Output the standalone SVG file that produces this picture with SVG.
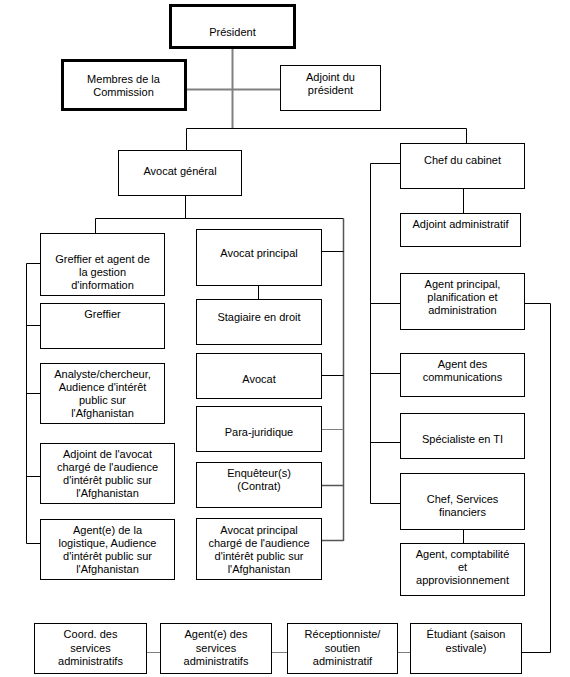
<svg xmlns="http://www.w3.org/2000/svg" width="570" height="677" viewBox="0 0 570 677">
<style>
.box{fill:#fff;stroke:#000;stroke-width:1}
.thick{stroke-width:3}
.t{font-family:"Liberation Sans",Arial,sans-serif;font-size:11px;text-anchor:middle;fill:#000}
.c{fill:none;stroke:#000;stroke-width:1}
.g{fill:none;stroke:#808080;stroke-width:1}
.g2{fill:none;stroke:#808080;stroke-width:2}
.d{fill:none;stroke:#555;stroke-width:1.5}
</style>
<rect width="570" height="677" fill="#fff"/>
<g id="connectors">
<path class="g2" d="M232.5 49 V128.5"/>
<path class="g2" d="M187 89.5 H280"/>
<path class="c" d="M186.5 128.5 H466.5 M186.5 128.5 V150 M466.5 128.5 V143"/>
<path class="c" d="M185.5 195 V218.5 M95.5 218.5 H343.5 M95.5 218.5 V233"/>
<path class="d" d="M343.5 218.5 V541"/>
<path class="c" d="M321 251.5 H343.5 M321 375.5 H343.5"/>
<path class="g" d="M321 429.5 H343.5"/>
<path class="d" d="M321 485.5 H343.5 M321 540.5 H343.5"/>
<path class="c" d="M258.5 285 V299"/>
<path class="c" d="M26.5 263.5 V543.5 M26.5 263.5 H40 M26.5 325.5 H40 M26.5 393.5 H40 M26.5 476.5 H40 M26.5 543.5 H40"/>
<path class="c" d="M370.5 163.5 V503.5 M370.5 163.5 H400 M370.5 303.5 H400 M370.5 373.5 H400 M370.5 442.5 H400 M370.5 503.5 H400"/>
<path class="c" d="M463.5 188 V213 M463.5 529 V543"/>
<path class="c" d="M524 303.5 H550.5 V652.5 H521"/>
<path class="g" d="M146 652.5 H160 M271 652.5 H287 M397 652.5 H410"/>
</g>
<g id="president"><rect class="box thick" x="170.5" y="5.5" width="124" height="42"/><text class="t" x="232.5" y="36">Président</text></g>
<g id="membres"><rect class="box thick" x="62.5" y="60.5" width="123" height="49"/><text class="t" x="123.5" y="83">Membres de la</text><text class="t" x="123.5" y="96">Commission</text></g>
<g id="adjoint-president"><rect class="box" x="280.5" y="65.5" width="100" height="45"/><text class="t" x="330.5" y="80.5">Adjoint du</text><text class="t" x="330.5" y="94">président</text></g>
<g id="avocat-general"><rect class="box" x="118.5" y="150.5" width="123" height="45"/><text class="t" x="180" y="175">Avocat général</text></g>
<g id="chef-cabinet"><rect class="box" x="400.5" y="143.5" width="124" height="45"/><text class="t" x="462.5" y="164">Chef du cabinet</text></g>
<g id="adjoint-admin"><rect class="box" x="400.5" y="213.5" width="120" height="33"/><text class="t" x="460.5" y="228">Adjoint administratif</text></g>
<g id="agent-principal"><rect class="box" x="400.5" y="273.5" width="124" height="56"/><text class="t" x="462.5" y="288">Agent principal,</text><text class="t" x="462.5" y="301">planification et</text><text class="t" x="462.5" y="314">administration</text></g>
<g id="agent-comm"><rect class="box" x="400.5" y="353.5" width="124" height="43"/><text class="t" x="462.5" y="368">Agent des</text><text class="t" x="462.5" y="381">communications</text></g>
<g id="specialiste-ti"><rect class="box" x="400.5" y="413.5" width="124" height="45"/><text class="t" x="462.5" y="443">Spécialiste en TI</text></g>
<g id="chef-sf"><rect class="box" x="400.5" y="473.5" width="124" height="56"/><text class="t" x="462.5" y="503">Chef, Services</text><text class="t" x="462.5" y="516">financiers</text></g>
<g id="agent-compta"><rect class="box" x="400.5" y="543.5" width="124" height="52"/><text class="t" x="462.5" y="558">Agent, comptabilité</text><text class="t" x="462.5" y="571">et</text><text class="t" x="462.5" y="584">approvisionnement</text></g>
<g id="greffier-agent"><rect class="box" x="40.5" y="233.5" width="124" height="62"/><text class="t" x="102.5" y="263">Greffier et agent de</text><text class="t" x="102.5" y="276">la gestion</text><text class="t" x="102.5" y="289">d'information</text></g>
<g id="greffier"><rect class="box" x="40.5" y="303.5" width="124" height="45"/><text class="t" x="102.5" y="318">Greffier</text></g>
<g id="analyste"><rect class="box" x="40.5" y="363.5" width="124" height="60"/><text class="t" x="102.5" y="378">Analyste/chercheur,</text><text class="t" x="102.5" y="391">Audience d'intérêt</text><text class="t" x="102.5" y="404">public sur</text><text class="t" x="102.5" y="417">l'Afghanistan</text></g>
<g id="adjoint-avocat"><rect class="box" x="40.5" y="443.5" width="134" height="60"/><text class="t" x="107.5" y="458">Adjoint de l'avocat</text><text class="t" x="107.5" y="471">chargé de l'audience</text><text class="t" x="107.5" y="484">d'intérêt public sur</text><text class="t" x="107.5" y="497">l'Afghanistan</text></g>
<g id="agent-logistique"><rect class="box" x="40.5" y="519.5" width="134" height="60"/><text class="t" x="107.5" y="534">Agent(e) de la</text><text class="t" x="107.5" y="547">logistique, Audience</text><text class="t" x="107.5" y="560">d'intérêt public sur</text><text class="t" x="107.5" y="573">l'Afghanistan</text></g>
<g id="avocat-principal"><rect class="box" x="196.5" y="229.5" width="125" height="56"/><text class="t" x="259" y="257">Avocat principal</text></g>
<g id="stagiaire"><rect class="box" x="196.5" y="299.5" width="125" height="45"/><text class="t" x="259" y="321">Stagiaire en droit</text></g>
<g id="avocat"><rect class="box" x="196.5" y="353.5" width="125" height="45"/><text class="t" x="259" y="383">Avocat</text></g>
<g id="para-juridique"><rect class="box" x="196.5" y="406.5" width="125" height="45"/><text class="t" x="259" y="436">Para-juridique</text></g>
<g id="enqueteur"><rect class="box" x="196.5" y="462.5" width="125" height="45"/><text class="t" x="259" y="477">Enquêteur(s)</text><text class="t" x="259" y="490">(Contrat)</text></g>
<g id="avocat-principal-charge"><rect class="box" x="196.5" y="518.5" width="125" height="61"/><text class="t" x="259" y="534">Avocat principal</text><text class="t" x="259" y="547">chargé de l'audience</text><text class="t" x="259" y="560">d'intérêt public sur</text><text class="t" x="259" y="573">l'Afghanistan</text></g>
<g id="coord"><rect class="box" x="34.5" y="623.5" width="112" height="50"/><text class="t" x="90.5" y="638">Coord. des</text><text class="t" x="90.5" y="651.5">services</text><text class="t" x="90.5" y="664.5">administratifs</text></g>
<g id="agent-services"><rect class="box" x="160.5" y="623.5" width="111" height="50"/><text class="t" x="216" y="638">Agent(e) des</text><text class="t" x="216" y="651.5">services</text><text class="t" x="216" y="664.5">administratifs</text></g>
<g id="receptionniste"><rect class="box" x="287.5" y="623.5" width="110" height="50"/><text class="t" x="342.5" y="638">Réceptionniste/</text><text class="t" x="342.5" y="651.5">soutien</text><text class="t" x="342.5" y="664.5">administratif</text></g>
<g id="etudiant"><rect class="box" x="410.5" y="623.5" width="111" height="50"/><text class="t" x="466" y="637.5">Étudiant (saison</text><text class="t" x="466" y="651.5">estivale)</text></g>
</svg>
